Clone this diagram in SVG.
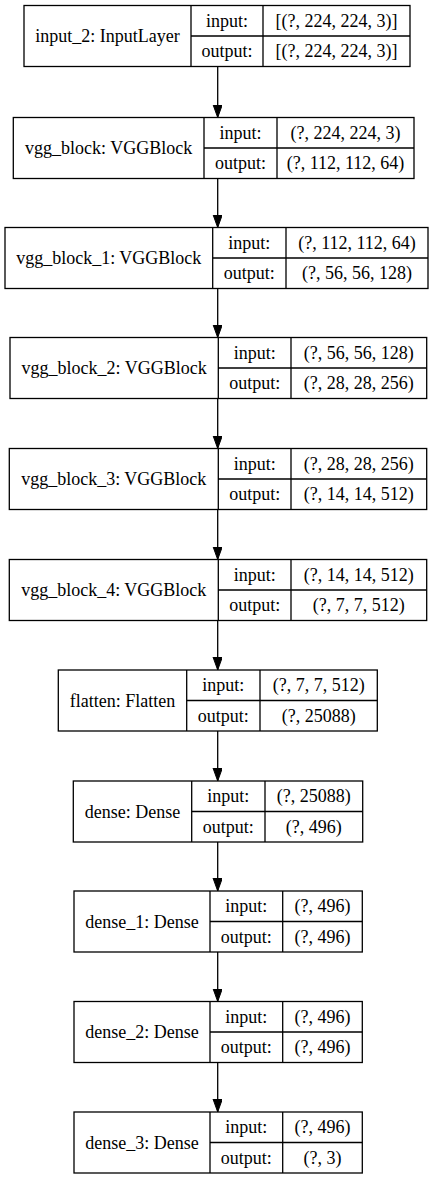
<svg xmlns="http://www.w3.org/2000/svg" width="436" height="1180" viewBox="0 0 436 1180">
<style>
.box{fill:#fff;stroke:#000;stroke-width:1.3}
.ln{stroke:#000;stroke-width:1.3;fill:none}
text{font-family:"Liberation Serif","Times New Roman",serif;font-size:18px;fill:#000;text-anchor:middle}
.edge{stroke:#000;stroke-width:1.3;fill:none;marker-end:url(#ah)}
</style>
<defs>
<marker id="ah" markerUnits="userSpaceOnUse" markerWidth="14" markerHeight="10" refX="13" refY="4.7" orient="auto" viewBox="0 0 14 10">
<path d="M0,0 L13,4.7 L0,9.4 Z" fill="#000" stroke="#000" stroke-width="1"/>
</marker>
</defs>
<rect width="436" height="1180" fill="#fff"/>
<g id="connectors">
<line class="edge" x1="217.7" y1="66.5" x2="217.7" y2="117.5"/>
<line class="edge" x1="217.7" y1="178.5" x2="217.7" y2="227.5"/>
<line class="edge" x1="217.7" y1="288.5" x2="217.7" y2="337.5"/>
<line class="edge" x1="217.7" y1="398.5" x2="217.7" y2="448.5"/>
<line class="edge" x1="217.7" y1="509.5" x2="217.7" y2="559.5"/>
<line class="edge" x1="217.7" y1="620.5" x2="217.7" y2="670"/>
<line class="edge" x1="217.7" y1="731" x2="217.7" y2="781"/>
<line class="edge" x1="217.7" y1="842" x2="217.7" y2="891"/>
<line class="edge" x1="217.7" y1="952" x2="217.7" y2="1001.5"/>
<line class="edge" x1="217.7" y1="1062.5" x2="217.7" y2="1112"/>
</g>
<g id="input_2">
<rect class="box" x="24" y="5.5" width="386" height="61"/>
<path class="ln" d="M191,5.5V66.5M263,5.5V66.5M191,36H410"/>
<text x="107.5" y="42">input_2: InputLayer</text>
<text x="227" y="26.75">input:</text>
<text x="227" y="57.25">output:</text>
<text x="336.5" y="26.75">[(?, 224, 224, 3)]</text>
<text x="336.5" y="57.25">[(?, 224, 224, 3)]</text>
</g>
<g id="vgg_block">
<rect class="box" x="13.3" y="117.5" width="400.7" height="61"/>
<path class="ln" d="M204,117.5V178.5M277,117.5V178.5M204,148H414"/>
<text x="108.7" y="154">vgg_block: VGGBlock</text>
<text x="240.5" y="138.75">input:</text>
<text x="240.5" y="169.25">output:</text>
<text x="345.5" y="138.75">(?, 224, 224, 3)</text>
<text x="345.5" y="169.25">(?, 112, 112, 64)</text>
</g>
<g id="vgg_block_1">
<rect class="box" x="5" y="227.5" width="423" height="61"/>
<path class="ln" d="M212.7,227.5V288.5M286,227.5V288.5M212.7,258H428"/>
<text x="108.8" y="264">vgg_block_1: VGGBlock</text>
<text x="249.3" y="248.75">input:</text>
<text x="249.3" y="279.25">output:</text>
<text x="357" y="248.75">(?, 112, 112, 64)</text>
<text x="357" y="279.25">(?, 56, 56, 128)</text>
</g>
<g id="vgg_block_2">
<rect class="box" x="10" y="337.5" width="416.7" height="61"/>
<path class="ln" d="M218.3,337.5V398.5M291,337.5V398.5M218.3,368H426.7"/>
<text x="114.2" y="374">vgg_block_2: VGGBlock</text>
<text x="254.7" y="358.75">input:</text>
<text x="254.7" y="389.25">output:</text>
<text x="358.8" y="358.75">(?, 56, 56, 128)</text>
<text x="358.8" y="389.25">(?, 28, 28, 256)</text>
</g>
<g id="vgg_block_3">
<rect class="box" x="9.3" y="448.5" width="417.4" height="61"/>
<path class="ln" d="M218.3,448.5V509.5M291,448.5V509.5M218.3,479H426.7"/>
<text x="113.8" y="485">vgg_block_3: VGGBlock</text>
<text x="254.7" y="469.75">input:</text>
<text x="254.7" y="500.25">output:</text>
<text x="358.8" y="469.75">(?, 28, 28, 256)</text>
<text x="358.8" y="500.25">(?, 14, 14, 512)</text>
</g>
<g id="vgg_block_4">
<rect class="box" x="9.3" y="559.5" width="417.4" height="61"/>
<path class="ln" d="M218.3,559.5V620.5M291,559.5V620.5M218.3,590H426.7"/>
<text x="113.8" y="596">vgg_block_4: VGGBlock</text>
<text x="254.7" y="580.75">input:</text>
<text x="254.7" y="611.25">output:</text>
<text x="358.8" y="580.75">(?, 14, 14, 512)</text>
<text x="358.8" y="611.25">(?, 7, 7, 512)</text>
</g>
<g id="flatten">
<rect class="box" x="58.3" y="670" width="319" height="61"/>
<path class="ln" d="M186.7,670V731M260,670V731M186.7,700.5H377.3"/>
<text x="122.5" y="706.5">flatten: Flatten</text>
<text x="223.3" y="691.25">input:</text>
<text x="223.3" y="721.75">output:</text>
<text x="318.7" y="691.25">(?, 7, 7, 512)</text>
<text x="318.7" y="721.75">(?, 25088)</text>
</g>
<g id="dense">
<rect class="box" x="73.3" y="781" width="289.4" height="61"/>
<path class="ln" d="M191.7,781V842M265,781V842M191.7,811.5H362.7"/>
<text x="132.5" y="817.5">dense: Dense</text>
<text x="228.3" y="802.25">input:</text>
<text x="228.3" y="832.75">output:</text>
<text x="313.8" y="802.25">(?, 25088)</text>
<text x="313.8" y="832.75">(?, 496)</text>
</g>
<g id="dense_1">
<rect class="box" x="74" y="891" width="288.3" height="61"/>
<path class="ln" d="M210,891V952M282.7,891V952M210,921.5H362.3"/>
<text x="142" y="927.5">dense_1: Dense</text>
<text x="246.3" y="912.25">input:</text>
<text x="246.3" y="942.75">output:</text>
<text x="322.5" y="912.25">(?, 496)</text>
<text x="322.5" y="942.75">(?, 496)</text>
</g>
<g id="dense_2">
<rect class="box" x="74" y="1001.5" width="288.3" height="61"/>
<path class="ln" d="M210,1001.5V1062.5M282.7,1001.5V1062.5M210,1032H362.3"/>
<text x="142" y="1038">dense_2: Dense</text>
<text x="246.3" y="1022.75">input:</text>
<text x="246.3" y="1053.25">output:</text>
<text x="322.5" y="1022.75">(?, 496)</text>
<text x="322.5" y="1053.25">(?, 496)</text>
</g>
<g id="dense_3">
<rect class="box" x="74" y="1112" width="288.3" height="61"/>
<path class="ln" d="M210,1112V1173M282.7,1112V1173M210,1142.5H362.3"/>
<text x="142" y="1148.5">dense_3: Dense</text>
<text x="246.3" y="1133.25">input:</text>
<text x="246.3" y="1163.75">output:</text>
<text x="322.5" y="1133.25">(?, 496)</text>
<text x="322.5" y="1163.75">(?, 3)</text>
</g>
</svg>
